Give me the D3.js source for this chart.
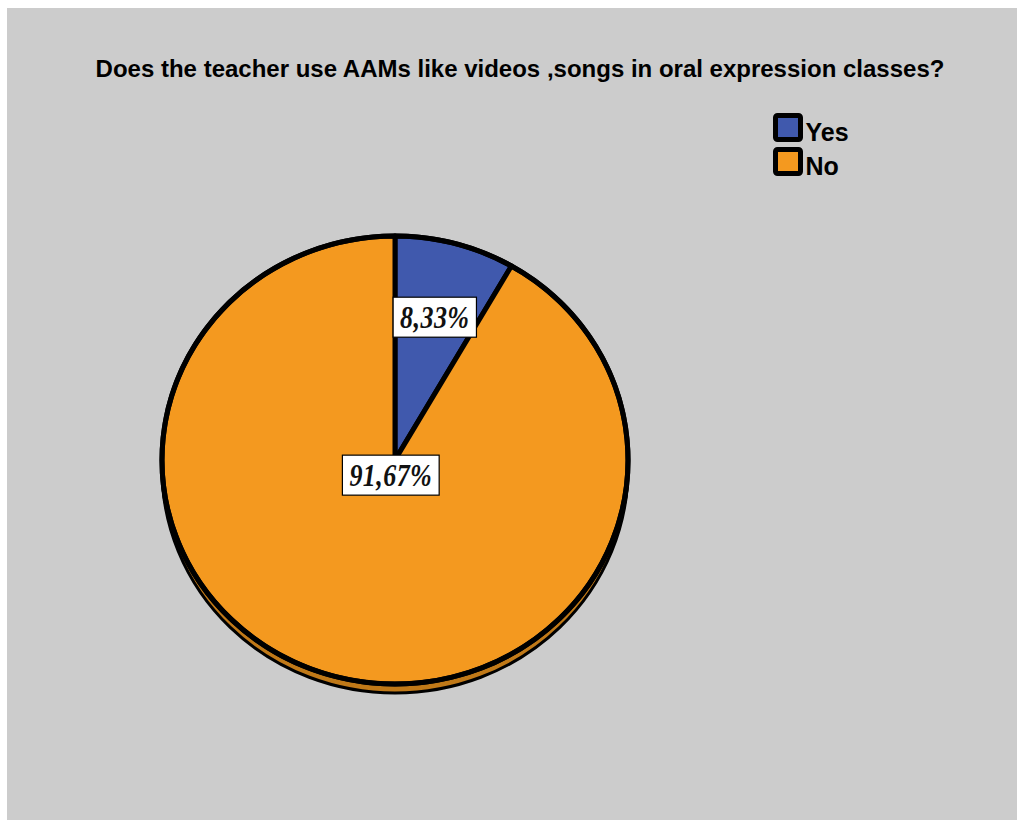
<!DOCTYPE html>
<html>
<head>
<meta charset="utf-8">
<script src="https://cdn.jsdelivr.net/npm/d3@7"></script>
<style>
  html, body { margin: 0; padding: 0; background: #ffffff; }
  svg { display: block; }
</style>
</head>
<body>
<svg id="chart" width="1017" height="820"></svg>
<script>
// Survey answers (percent of respondents)
const categories = ["Yes", "No"];
const values = [8.33, 91.67];
const valueLabels = ["8,33%", "91,67%"];
const colors = ["#4059ad", "#f4991f"];
const titleText = "Does the teacher use AAMs like videos ,songs in oral expression classes?";

const svg = d3.select("#chart");
const W = 1017, H = 820;

// panel background
svg.append("rect").attr("x", 7).attr("y", 8).attr("width", W - 7).attr("height", H - 8)
  .attr("fill", "#cccccc");

// title
svg.append("text")
  .attr("x", 520).attr("y", 77)
  .attr("text-anchor", "middle")
  .attr("font-family", "Liberation Sans, Arial, sans-serif")
  .attr("font-weight", "bold")
  .attr("font-size", 24)
  .attr("fill", "#000")
  .text(titleText);

// pie geometry: slightly flattened ellipse with a thin rim below
const cx = 395, cy = 460, rx = 233, ry = 224, depth = 9;
const sy = ry / rx;

const pie = d3.pie().sort(null).value(d => d)
  .startAngle(0).endAngle(2 * Math.PI);
const arcs = pie(values);
const arc = d3.arc().innerRadius(0).outerRadius(rx);

// rim (lower ellipse)
svg.append("ellipse")
  .attr("cx", cx).attr("cy", cy + depth)
  .attr("rx", rx).attr("ry", ry)
  .attr("fill", "#c07918")
  .attr("stroke", "#000").attr("stroke-width", 3);

const face = svg.append("g")
  .attr("transform", `translate(${cx},${cy}) scale(1,${sy})`);

face.selectAll("path.slice")
  .data(arcs)
  .join("path")
  .attr("class", "slice")
  .attr("d", arc)
  .attr("fill", (d, i) => colors[i])
  .attr("stroke", "#000")
  .attr("stroke-width", 5)
  .attr("stroke-linejoin", "round")
  .attr("vector-effect", "non-scaling-stroke");

// outer outline of the top face
face.append("circle")
  .attr("r", rx)
  .attr("fill", "none")
  .attr("stroke", "#000")
  .attr("stroke-width", 5)
  .attr("vector-effect", "non-scaling-stroke");

// value labels in white boxes (condensed bold italic serif)
const labelRadius = [0.66, 0.07];
const labelScaleX = 0.84;
const labels = svg.append("g");
arcs.forEach((d, i) => {
  const mid = (d.startAngle + d.endAngle) / 2;
  const x = cx + rx * labelRadius[i] * Math.sin(mid);
  const y = cy - ry * labelRadius[i] * Math.cos(mid);
  const g = labels.append("g").attr("transform", `translate(${x},${y})`);
  const t = g.append("text")
    .attr("text-anchor", "middle")
    .attr("dy", "0.35em")
    .attr("transform", `scale(${labelScaleX},1)`)
    .attr("font-family", "Liberation Serif, Times New Roman, serif")
    .attr("font-style", "italic")
    .attr("font-weight", "bold")
    .attr("font-size", 31)
    .attr("letter-spacing", 0.5)
    .attr("fill", "#111")
    .text(valueLabels[i]);
  const bb = t.node().getBBox();
  const w = bb.width * labelScaleX;
  g.insert("rect", "text")
    .attr("x", -w / 2 - 7).attr("y", -20)
    .attr("width", w + 14).attr("height", 40)
    .attr("fill", "#fff")
    .attr("stroke", "#000").attr("stroke-width", 1.2);
});

// legend
const legend = svg.append("g").attr("transform", "translate(775.5,115.5)");
const items = legend.selectAll("g.item")
  .data(categories)
  .join("g")
  .attr("class", "item")
  .attr("transform", (d, i) => `translate(0,${i * 34})`);
items.append("rect")
  .attr("x", 0).attr("y", 0).attr("width", 25).attr("height", 24)
  .attr("rx", 2)
  .attr("fill", (d, i) => colors[i])
  .attr("stroke", "#000").attr("stroke-width", 5);
items.append("text")
  .attr("x", 30).attr("y", 25)
  .attr("font-family", "Liberation Sans, Arial, sans-serif")
  .attr("font-weight", "bold")
  .attr("font-size", 25)
  .attr("fill", "#000")
  .text(d => d);
</script>
</body>
</html>
